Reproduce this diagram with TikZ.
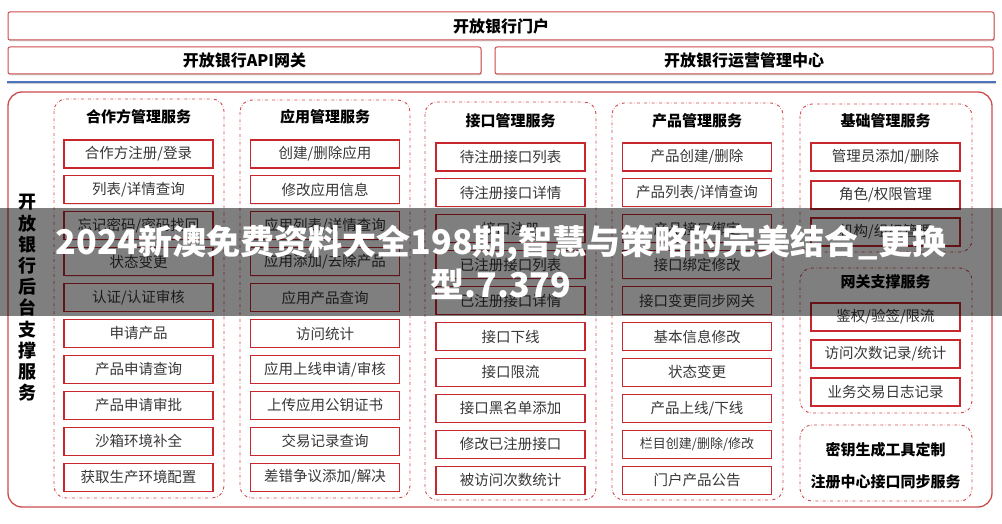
\documentclass[tikz,border=0pt]{standalone}
\usepackage{fontspec}
\setmainfont{Noto Sans CJK SC}
\usepackage{tikz}
\usetikzlibrary{shadows}

\definecolor{framered}{RGB}{205,75,75}
\definecolor{itemred}{RGB}{200,40,45}
\definecolor{textgrey}{RGB}{55,55,55}
\definecolor{lineblue}{RGB}{75,115,190}

\begin{document}
\begin{tikzpicture}[x=1pt, y=-1pt,
    every node/.style={inner sep=0},
    layerbox/.style={rectangle, draw=framered, line width=1, fill=white,
        rounded corners=2, drop shadow={opacity=0.35, shadow xshift=0.8pt,
        shadow yshift=-1.5pt}, font=\bfseries\fontsize{16}{16}\selectfont},
    group/.style={draw=itemred!85, dash dot, line width=0.9, rounded corners=12},
    title/.style={font=\bfseries\fontsize{15}{15}\selectfont},
    service/.style={rectangle, draw=itemred, line width=1.2, fill=white,
        minimum width=149, minimum height=28, text=textgrey,
        drop shadow={opacity=0.2, shadow xshift=0.6pt, shadow yshift=-0.8pt},
        font=\fontsize{14.5}{14.5}\selectfont},
    ]
    \useasboundingbox (0,0) rectangle (1002,524);

    % top layers
    \node (portal) [layerbox, minimum width=986, minimum height=28] at (501,26)
        {开放银行门户};
    \node (gateway) [layerbox, minimum width=473, minimum height=27] at (244.5,60.5)
        {开放银行API网关};
    \node (ops) [layerbox, minimum width=498, minimum height=27] at (744,60.5)
        {开放银行运营管理中心};
    \coordinate (blue-w) at (7,82);
    \coordinate (blue-e) at (996,82);
    \draw [black!20, line width=2] ([yshift=-1.5pt]blue-w) -- ([yshift=-1.5pt]blue-e);
    \draw [lineblue, line width=2] (blue-w) -- (blue-e);

    % backend frame
    \draw [framered, line width=1.3, rounded corners=14] (8,92) rectangle (992,507);
    \node (backend) [font=\bfseries\fontsize{18}{21.2}\selectfont, align=center]
        at (28,298) {开\\放\\银\\行\\后\\台\\支\\撑\\服\\务};

    % service groups
    \draw [group] (54,99) rectangle (224,498);
    \draw [group] (240,100) rectangle (410,498);
    \draw [group] (425,102) rectangle (596,500);
    \draw [group] (612,103) rectangle (783,500);
    \draw [group] (800,104) rectangle (972,252);
    \draw [group] (800,268) rectangle (972,413);
    \draw [group] (800,425) rectangle (972,501);

    \node (partner) [title] at (138.5,117) {合作方管理服务};
    \node (app) [title] at (325,117) {应用管理服务};
    \node (api) [title] at (510.5,121) {接口管理服务};
    \node (product) [title] at (697,121) {产品管理服务};
    \node (base) [title] at (885.5,121) {基础管理服务};
    \node (gw) [title] at (885.5,282) {网关支撑服务};
    \node (keytool) [title] at (885.5,450) {密钥生成工具定制};
    \node (regsync) [title] at (885.5,482) {注册中心接口同步服务};

    \foreach \txt [count=\i] in {合作方注册/登录, 列表/详情查询, 忘记密码/密码找回,
        状态变更, 认证/认证审核, 申请产品, 产品申请查询, 产品申请审批, 沙箱环境补全,
        获取生产环境配置} {
        \node (partner-\i) [service] at (138.5,{154+35.9*(\i-1)}) {\txt};
    }
    \foreach \txt [count=\i] in {创建/删除应用, 修改应用信息, 应用列表/详情查询,
        应用添加/去除产品, 应用产品查询, 访问统计, 应用上线申请/审核, 上传应用公钥证书,
        交易记录查询, 差错争议添加/解决} {
        \node (app-\i) [service] at (325,{154+35.9*(\i-1)}) {\txt};
    }
    \foreach \txt [count=\i] in {待注册接口列表, 待注册接口详情, 接口注册,
        已注册接口列表, 已注册接口详情, 接口下线, 接口限流, 接口黑名单添加,
        修改已注册接口, 被访问次数统计} {
        \node (api-\i) [service] at (510.5,{157+35.9*(\i-1)}) {\txt};
    }
    \foreach \txt [count=\i] in {产品创建/删除, 产品列表/详情查询, 产品接口绑定,
        接口绑定修改, 接口变更同步网关, 基本信息修改, 状态变更, 产品上线/下线,
        {\fontsize{13}{13}\selectfont 栏目创建/删除/修改}, 门户产品公告} {
        \node (product-\i) [service] at (697,{157+35.9*(\i-1)}) {\txt};
    }
    \foreach \txt/\y [count=\i] in {{管理员添加/删除}/157, {角色/权限管理}/195,
        {机构/组织管理}/232} {
        \node (base-\i) [service] at (885.5,\y) {\txt};
    }
    \foreach \txt/\y [count=\i] in {{鉴权/验签/限流}/317, {访问次数记录/统计}/354,
        业务交易日志记录/392} {
        \node (gw-\i) [service] at (885.5,\y) {\txt};
    }

    % overlay band
    \fill [black, fill opacity=0.5] (0,208) rectangle (1002,316);
    \node (band-1) [text=white, font=\bfseries\fontsize{34}{34}\selectfont]
        at (501,244) {2024新澳免费资料大全198期,智慧与策略的完美结合\_更换};
    \node (band-2) [text=white, font=\bfseries\fontsize{34}{34}\selectfont]
        at (501,284) {型.7.379};
\end{tikzpicture}
\end{document}
